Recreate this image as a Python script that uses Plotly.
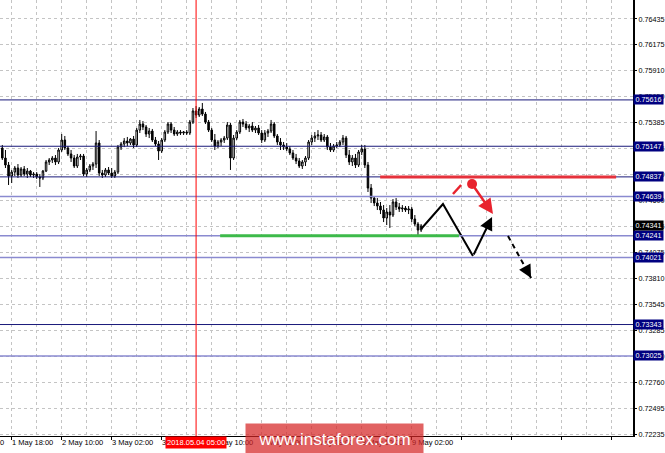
import plotly.graph_objects as go

# ---------------- data (H1 candles) ----------------
bar_index = list(range(135))
first_open = 0.75129
highs = [0.75160, 0.75109, 0.74988, 0.74907, 0.74947, 0.74967, 0.74937, 0.74947, 0.74927, 0.74907,
         0.74886, 0.74886, 0.74866, 0.74907, 0.75008, 0.75028, 0.75048, 0.75058, 0.75129, 0.75271,
         0.75251, 0.75149, 0.75109, 0.75058, 0.75069, 0.75069, 0.75069, 0.74927, 0.74967, 0.74988,
         0.75301, 0.75210, 0.74907, 0.74927, 0.74937, 0.74927, 0.74907, 0.75160, 0.75190, 0.75230,
         0.75241, 0.75230, 0.75251, 0.75332, 0.75413, 0.75402, 0.75362, 0.75332, 0.75322, 0.75241,
         0.75200, 0.75230, 0.75311, 0.75392, 0.75392, 0.75342, 0.75311, 0.75311, 0.75301, 0.75311,
         0.75413, 0.75534, 0.75554, 0.75544, 0.75585, 0.75494, 0.75413, 0.75332, 0.75271, 0.75210,
         0.75230, 0.75251, 0.75392, 0.75382, 0.75261, 0.75311, 0.75413, 0.75423, 0.75402, 0.75372,
         0.75392, 0.75352, 0.75362, 0.75311, 0.75311, 0.75322, 0.75413, 0.75392, 0.75271, 0.75230,
         0.75190, 0.75180, 0.75149, 0.75109, 0.75069, 0.75028, 0.75008, 0.75048, 0.75210, 0.75261,
         0.75291, 0.75311, 0.75291, 0.75271, 0.75261, 0.75180, 0.75170, 0.75190, 0.75210, 0.75261,
         0.75251, 0.75109, 0.75058, 0.75069, 0.75109, 0.75160, 0.75160, 0.74988, 0.74765, 0.74643,
         0.74623, 0.74583, 0.74552, 0.74522, 0.74552, 0.74613, 0.74623, 0.74573, 0.74552, 0.74542,
         0.74542, 0.74532, 0.74451, 0.74380, 0.74360]
lows = [0.75008, 0.74927, 0.74755, 0.74775, 0.74846, 0.74826, 0.74836, 0.74846, 0.74826, 0.74836,
        0.74826, 0.74816, 0.74735, 0.74805, 0.74886, 0.74957, 0.74977, 0.74957, 0.74967, 0.75089,
        0.75109, 0.75048, 0.74988, 0.74927, 0.74927, 0.75008, 0.74846, 0.74836, 0.74886, 0.74907,
        0.74927, 0.74846, 0.74826, 0.74836, 0.74856, 0.74826, 0.74826, 0.74866, 0.75109, 0.75139,
        0.75149, 0.75160, 0.75129, 0.75139, 0.75281, 0.75311, 0.75241, 0.75230, 0.75190, 0.75149,
        0.75008, 0.75079, 0.75190, 0.75271, 0.75281, 0.75251, 0.75251, 0.75261, 0.75261, 0.75261,
        0.75261, 0.75372, 0.75433, 0.75443, 0.75453, 0.75372, 0.75291, 0.75190, 0.75109, 0.75129,
        0.75149, 0.75180, 0.75210, 0.74907, 0.75008, 0.75210, 0.75271, 0.75342, 0.75311, 0.75291,
        0.75291, 0.75281, 0.75261, 0.75180, 0.75190, 0.75241, 0.75281, 0.75230, 0.75160, 0.75109,
        0.75109, 0.75099, 0.75058, 0.75008, 0.74967, 0.74927, 0.74917, 0.74947, 0.75008, 0.75160,
        0.75190, 0.75210, 0.75190, 0.75190, 0.75109, 0.75089, 0.75089, 0.75129, 0.75139, 0.75160,
        0.75028, 0.74957, 0.74947, 0.74927, 0.74937, 0.75058, 0.74927, 0.74684, 0.74573, 0.74542,
        0.74502, 0.74461, 0.74380, 0.74350, 0.74320, 0.74431, 0.74502, 0.74482, 0.74482, 0.74482,
        0.74461, 0.74380, 0.74340, 0.74229, 0.74279]
closes = [0.75028, 0.74957, 0.74846, 0.74886, 0.74927, 0.74856, 0.74917, 0.74866, 0.74896, 0.74856,
          0.74866, 0.74836, 0.74826, 0.74896, 0.74988, 0.75008, 0.75028, 0.74988, 0.75109, 0.75210,
          0.75129, 0.75069, 0.75028, 0.74947, 0.75038, 0.75048, 0.74866, 0.74907, 0.74947, 0.74967,
          0.75180, 0.74876, 0.74856, 0.74907, 0.74876, 0.74846, 0.74886, 0.75139, 0.75170, 0.75200,
          0.75180, 0.75220, 0.75160, 0.75311, 0.75372, 0.75342, 0.75271, 0.75301, 0.75210, 0.75170,
          0.75099, 0.75210, 0.75291, 0.75372, 0.75311, 0.75271, 0.75291, 0.75281, 0.75291, 0.75281,
          0.75392, 0.75504, 0.75463, 0.75524, 0.75473, 0.75392, 0.75311, 0.75210, 0.75149, 0.75190,
          0.75210, 0.75230, 0.75362, 0.75028, 0.75230, 0.75291, 0.75392, 0.75372, 0.75332, 0.75352,
          0.75311, 0.75332, 0.75281, 0.75210, 0.75281, 0.75301, 0.75372, 0.75251, 0.75190, 0.75160,
          0.75139, 0.75119, 0.75079, 0.75028, 0.74998, 0.74947, 0.74988, 0.75028, 0.75190, 0.75230,
          0.75251, 0.75261, 0.75210, 0.75241, 0.75139, 0.75109, 0.75149, 0.75160, 0.75190, 0.75230,
          0.75058, 0.74988, 0.75028, 0.74957, 0.75089, 0.75119, 0.74957, 0.74724, 0.74623, 0.74573,
          0.74542, 0.74502, 0.74421, 0.74482, 0.74451, 0.74583, 0.74532, 0.74512, 0.74522, 0.74502,
          0.74512, 0.74411, 0.74360, 0.74299, 0.74341]
opens = [first_open] + closes[:-1]

# time axis labels (bar index -> label)
time_tick_bars = [3, 19, 35, 51, 67, 83, 99, 115, 131]
time_tick_labels = ["1 May 18:00", "2 May 10:00", "3 May 02:00", "3 May 18:00", "4 May 10:00",
                    "7 May 02:00", "7 May 18:00", "8 May 10:00", "9 May 02:00"]
major_grid_bars = [3, 19, 35, 51, 67, 83, 99, 115, 131, 147, 163, 179, 195]
minor_grid_bars = [11, 27, 43, 59, 75, 91, 107, 123, 139, 155, 171, 187]

# price scale ticks
price_ticks = [0.76435, 0.76175, 0.75910, 0.75650, 0.75385, 0.75125, 0.74860, 0.74600, 0.74335,
               0.74075, 0.73810, 0.73545, 0.73285, 0.73020, 0.72760, 0.72495, 0.72235]

# horizontal levels
dark_levels = [0.75616, 0.75147, 0.74837, 0.73343]
light_levels = [0.74639, 0.74241, 0.74021, 0.73025]
current_price = 0.74341

# vertical marker
marker_bar = 62
marker_label = "2018.05.04 05:00"

# analyst drawings (bar index, price)
red_level = 0.74837
red_level_bars = [120.9, 196.4]
green_level = 0.74241
green_level_bars = [69.7, 146.1]
zig_bars = [134.0, 141.0, 150.6]
zig_prices = [0.74310, 0.74563, 0.74036]
zig_arrow_tip = (156.7, 0.74431)
dash_start = (161.8, 0.74239)
dash_end = (169.2, 0.73814)
red_dash_bars = [144.2, 146.8]
red_dash_prices = [0.74664, 0.74755]
red_dot = (150.3, 0.74765)
red_arrow_tip = (157.0, 0.74461)

FONT = "Liberation Sans"
DARK = "#1a1a7a"
LIGHT = "#8a8ad0"
GRID = "#c4c4c4"

fig = go.Figure()

fig.add_trace(go.Candlestick(
    x=bar_index, open=opens, high=highs, low=lows, close=closes,
    increasing=dict(line=dict(color="black", width=1), fillcolor="white"),
    decreasing=dict(line=dict(color="black", width=1), fillcolor="black"),
    whiskerwidth=0, showlegend=False, hoverinfo="skip"))

# black zigzag
fig.add_trace(go.Scatter(x=zig_bars, y=zig_prices, mode="lines",
                         line=dict(color="black", width=2), showlegend=False, hoverinfo="skip"))
# red short dash
fig.add_trace(go.Scatter(x=red_dash_bars, y=red_dash_prices, mode="lines",
                         line=dict(color="#e8232e", width=2.5), showlegend=False, hoverinfo="skip"))
# red dot
fig.add_trace(go.Scatter(x=[red_dot[0]], y=[red_dot[1]], mode="markers",
                         marker=dict(color="#e8232e", size=10), showlegend=False, hoverinfo="skip"))

shapes = []
for lv in dark_levels:
    shapes.append(dict(type="line", xref="paper", x0=0, x1=1, yref="y", y0=lv, y1=lv,
                       line=dict(color=DARK, width=1)))
for lv in light_levels:
    shapes.append(dict(type="line", xref="paper", x0=0, x1=1, yref="y", y0=lv, y1=lv,
                       line=dict(color=LIGHT, width=1.5)))
shapes.append(dict(type="line", xref="x", x0=marker_bar, x1=marker_bar, yref="paper", y0=0, y1=1,
                   line=dict(color="#ff0000", width=1)))
shapes.append(dict(type="line", xref="x", x0=red_level_bars[0], x1=red_level_bars[1], yref="y",
                   y0=red_level, y1=red_level, line=dict(color="#e5323c", width=3)))
shapes.append(dict(type="line", xref="x", x0=green_level_bars[0], x1=green_level_bars[1], yref="y",
                   y0=green_level, y1=green_level, line=dict(color="#3dba4a", width=3)))
shapes.append(dict(type="line", xref="x", x0=dash_start[0], x1=dash_end[0], yref="y",
                   y0=dash_start[1], y1=dash_end[1], line=dict(color="black", width=2, dash="5px,4px")))

annotations = []
# level boxes on price scale
for lv in dark_levels + light_levels:
    annotations.append(dict(xref="paper", x=1, xanchor="left", yref="y", y=lv, yanchor="middle",
                            text=f"{lv:.5f}", showarrow=False, bgcolor="#000080",
                            font=dict(family=FONT, size=7.2, color="white"),
                            width=29, height=9, borderpad=0, align="center"))
annotations.append(dict(xref="paper", x=1, xanchor="left", yref="y", y=current_price, yanchor="middle",
                        text=f"{current_price:.5f}", showarrow=False, bgcolor="black",
                        font=dict(family=FONT, size=7.2, color="white"),
                        width=29, height=9, borderpad=0, align="center"))
# time labels
annotations.append(dict(xref="paper", x=0, xanchor="left", yref="paper", y=-0.016, yanchor="middle",
                        text="0", showarrow=False, borderpad=0, xshift=-1,
                        font=dict(family=FONT, size=7.5, color="black")))
for b, lab in zip(time_tick_bars, time_tick_labels):
    annotations.append(dict(xref="x", x=b, xanchor="left", yref="paper", y=-0.016, yanchor="middle",
                            text=lab, showarrow=False, borderpad=0, xshift=-1,
                            font=dict(family=FONT, size=7.5, color="black")))
annotations.append(dict(xref="x", x=marker_bar, xanchor="center", yref="paper", y=-0.016,
                        yanchor="middle", text=marker_label, showarrow=False, bgcolor="#ff0000",
                        borderpad=1, font=dict(family=FONT, size=7.5, color="white")))
# arrows
annotations.append(dict(xref="x", yref="y", x=zig_arrow_tip[0], y=zig_arrow_tip[1],
                        axref="x", ayref="y", ax=zig_bars[-1], ay=zig_prices[-1], text="",
                        showarrow=True, arrowhead=2, arrowsize=1.3, arrowwidth=2, arrowcolor="black",
                        standoff=0, startstandoff=0))
annotations.append(dict(xref="x", yref="y", x=dash_end[0], y=dash_end[1], ax=-5, ay=-9, text="",
                        showarrow=True, arrowhead=2, arrowsize=1.3, arrowwidth=2, arrowcolor="black",
                        standoff=0))
annotations.append(dict(xref="x", yref="y", x=red_arrow_tip[0], y=red_arrow_tip[1],
                        axref="x", ayref="y", ax=red_dot[0], ay=red_dot[1], text="",
                        showarrow=True, arrowhead=2, arrowsize=1.2, arrowwidth=2.5, arrowcolor="#e8232e",
                        standoff=0))
# watermark
annotations.append(dict(xref="paper", x=245 / 633, xanchor="left", yref="paper", y=13 / 436,
                        yanchor="top", text="www.instaforex.com", showarrow=False,
                        bgcolor="rgba(214,38,38,0.72)", width=177, height=30, borderpad=0,
                        font=dict(family=FONT, size=17, color="white"), align="center"))

fig.update_layout(
    width=665, height=453,
    margin=dict(l=0, r=32, t=0, b=17),
    paper_bgcolor="white", plot_bgcolor="white",
    shapes=shapes, annotations=annotations,
    showlegend=False,
    xaxis=dict(range=[-0.74, 201.8], rangeslider=dict(visible=False),
               tickvals=major_grid_bars, showticklabels=False,
               ticks="outside", ticklen=3, tickcolor="black",
               showgrid=True, gridcolor=GRID, griddash="3px,3px", gridwidth=1,
               minor=dict(tickvals=minor_grid_bars, showgrid=True, gridcolor=GRID,
                          griddash="3px,3px", ticks=""),
               showline=True, linecolor="black", linewidth=1, zeroline=False, automargin=False),
    yaxis=dict(range=[0.72215, 0.76627], side="right", tickvals=price_ticks,
               ticktext=[f"{v:.5f}" for v in price_ticks],
               tickfont=dict(family=FONT, size=7.2, color="black"),
               ticks="outside", ticklen=2, tickcolor="black",
               showgrid=True, gridcolor=GRID, griddash="3px,3px", gridwidth=1,
               showline=True, linecolor="black", linewidth=2, zeroline=False, automargin=False),
)

fig.write_html("out.html", config={"displayModeBar": False},
               post_script="document.body.style.margin='0';document.body.style.padding='0';"
                           "document.body.style.overflow='hidden';")
